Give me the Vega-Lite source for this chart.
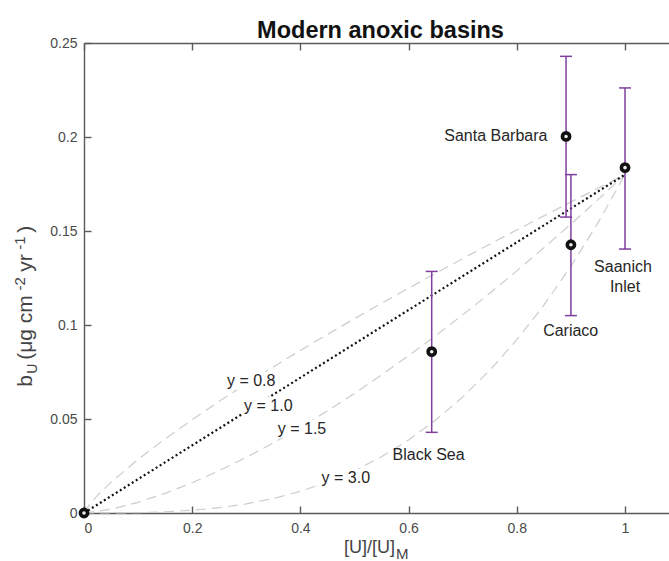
{
  "$schema": "https://vega.github.io/schema/vega-lite/v6.json",
  "width": 585,
  "height": 470,
  "autosize": {"type": "none"},
  "padding": {"left": 84, "top": 43, "right": 0, "bottom": 48},
  "background": "white",
  "title": {"text": "Modern anoxic basins", "fontSize": 23.5, "fontWeight": "bold", "font": "Liberation Sans", "color": "#111111", "anchor": "middle", "offset": -6, "dx": 4},
  "config": {
    "view": {"stroke": null},
    "font": "Liberation Sans",
    "axis": {"domainColor": "#5a5a5a", "domainWidth": 1.4, "tickColor": "#5a5a5a", "tickWidth": 1.4, "labelColor": "#4a4a4a", "labelFontSize": 14, "labelFont": "Liberation Sans", "grid": false}
  },
  "datasets": {
    "curves": [
      {"p": "0.8", "x": 0, "y": 0}, {"p": "0.8", "x": 0.01, "y": 0.00452}, {"p": "0.8", "x": 0.025, "y": 0.00941}, {"p": "0.8", "x": 0.05, "y": 0.01639}, {"p": "0.8", "x": 0.1, "y": 0.02853}, {"p": "0.8", "x": 0.15, "y": 0.03946}, {"p": "0.8", "x": 0.2, "y": 0.04967}, {"p": "0.8", "x": 0.25, "y": 0.05938}, {"p": "0.8", "x": 0.3, "y": 0.0687}, {"p": "0.8", "x": 0.35, "y": 0.07772}, {"p": "0.8", "x": 0.4, "y": 0.08648}, {"p": "0.8", "x": 0.45, "y": 0.09503}, {"p": "0.8", "x": 0.5, "y": 0.10338}, {"p": "0.8", "x": 0.55, "y": 0.11158}, {"p": "0.8", "x": 0.6, "y": 0.11962}, {"p": "0.8", "x": 0.65, "y": 0.12753}, {"p": "0.8", "x": 0.7, "y": 0.13532}, {"p": "0.8", "x": 0.75, "y": 0.143}, {"p": "0.8", "x": 0.8, "y": 0.15057}, {"p": "0.8", "x": 0.85, "y": 0.15806}, {"p": "0.8", "x": 0.9, "y": 0.16545}, {"p": "0.8", "x": 0.95, "y": 0.17276}, {"p": "0.8", "x": 1, "y": 0.18},
      {"p": "1.5", "x": 0, "y": 0}, {"p": "1.5", "x": 0.05, "y": 0.002012}, {"p": "1.5", "x": 0.1, "y": 0.005692}, {"p": "1.5", "x": 0.15, "y": 0.010457}, {"p": "1.5", "x": 0.2, "y": 0.0161}, {"p": "1.5", "x": 0.25, "y": 0.0225}, {"p": "1.5", "x": 0.3, "y": 0.029577}, {"p": "1.5", "x": 0.35, "y": 0.037271}, {"p": "1.5", "x": 0.4, "y": 0.045537}, {"p": "1.5", "x": 0.45, "y": 0.054336}, {"p": "1.5", "x": 0.5, "y": 0.06364}, {"p": "1.5", "x": 0.55, "y": 0.07342}, {"p": "1.5", "x": 0.6, "y": 0.083657}, {"p": "1.5", "x": 0.65, "y": 0.094329}, {"p": "1.5", "x": 0.7, "y": 0.105419}, {"p": "1.5", "x": 0.75, "y": 0.116914}, {"p": "1.5", "x": 0.8, "y": 0.128797}, {"p": "1.5", "x": 0.85, "y": 0.141059}, {"p": "1.5", "x": 0.9, "y": 0.153686}, {"p": "1.5", "x": 0.95, "y": 0.166671}, {"p": "1.5", "x": 1, "y": 0.18},
      {"p": "3.0", "x": 0, "y": 0}, {"p": "3.0", "x": 0.05, "y": 0.0000225}, {"p": "3.0", "x": 0.1, "y": 0.00018}, {"p": "3.0", "x": 0.15, "y": 0.0006075}, {"p": "3.0", "x": 0.2, "y": 0.00144}, {"p": "3.0", "x": 0.25, "y": 0.0028125}, {"p": "3.0", "x": 0.3, "y": 0.00486}, {"p": "3.0", "x": 0.35, "y": 0.0077175}, {"p": "3.0", "x": 0.4, "y": 0.01152}, {"p": "3.0", "x": 0.45, "y": 0.0164025}, {"p": "3.0", "x": 0.5, "y": 0.0225}, {"p": "3.0", "x": 0.55, "y": 0.0299475}, {"p": "3.0", "x": 0.6, "y": 0.03888}, {"p": "3.0", "x": 0.65, "y": 0.0494325}, {"p": "3.0", "x": 0.7, "y": 0.06174}, {"p": "3.0", "x": 0.75, "y": 0.0759375}, {"p": "3.0", "x": 0.8, "y": 0.09216}, {"p": "3.0", "x": 0.85, "y": 0.1105425}, {"p": "3.0", "x": 0.9, "y": 0.13122}, {"p": "3.0", "x": 0.95, "y": 0.1543275}, {"p": "3.0", "x": 1, "y": 0.18}
    ],
    "linear": [{"x": 0, "y": 0}, {"x": 1, "y": 0.18}],
    "curveLabels": [
      {"label": "y = 0.8", "x": 0.309, "y": 0.0704},
      {"label": "y = 1.0", "x": 0.3407, "y": 0.0571},
      {"label": "y = 1.5", "x": 0.403, "y": 0.0448},
      {"label": "y = 3.0", "x": 0.484, "y": 0.0188}
    ],
    "basins": [
      {"name": "Black Sea", "x": 0.6427, "y": 0.0858, "lo": 0.0429, "hi": 0.1285},
      {"name": "Santa Barbara", "x": 0.891, "y": 0.2003, "lo": 0.1574, "hi": 0.2429},
      {"name": "Cariaco", "x": 0.9, "y": 0.1427, "lo": 0.105, "hi": 0.18},
      {"name": "Saanich Inlet", "x": 1.0, "y": 0.1837, "lo": 0.1404, "hi": 0.2261}
    ],
    "points": [
      {"x": 0, "y": 0},
      {"x": 0.6427, "y": 0.0858},
      {"x": 0.891, "y": 0.2003},
      {"x": 0.9, "y": 0.1427},
      {"x": 1.0, "y": 0.1837}
    ],
    "basinLabels": [
      {"label": "Santa Barbara", "x": 0.7612, "y": 0.2007},
      {"label": "Cariaco", "x": 0.8996, "y": 0.0966},
      {"label": "Saanich", "x": 0.9963, "y": 0.1306},
      {"label": "Inlet", "x": 1.0, "y": 0.1202},
      {"label": "Black Sea", "x": 0.637, "y": 0.031}
    ],
    "xTitleMain": [{"label": "[U]/[U]", "x": 0.5749, "y": 0}],
    "xTitleSub": [{"label": "M", "x": 0.5765, "y": 0}],
    "yTitleMain": [
      {"label": "b", "x": -0.0961, "y": 0.0672},
      {"label": "(μg cm", "x": -0.0961, "y": 0.0815},
      {"label": "yr", "x": -0.0961, "y": 0.1283},
      {"label": ")", "x": -0.0961, "y": 0.1491}
    ],
    "yTitleSub": [{"label": "U", "x": -0.0869, "y": 0.0741}],
    "yTitleSup": [{"label": "-2", "x": -0.1091, "y": 0.1183}, {"label": "-1", "x": -0.1091, "y": 0.14}]
  },
  "layer": [
    {
      "data": {"name": "curves"},
      "mark": {"type": "line", "color": "#cccccc", "strokeWidth": 1.2, "strokeDash": [10, 6]},
      "encoding": {
        "x": {"field": "x", "type": "quantitative", "scale": {"domain": [0, 1.0813], "nice": false, "zero": false}, "axis": {"orient": "bottom", "values": [0, 0.2, 0.4, 0.6, 0.8, 1], "format": "~g", "title": null, "tickSize": -7, "labelPadding": 15}},
        "y": {"field": "y", "type": "quantitative", "scale": {"domain": [0, 0.25], "nice": false, "zero": false}, "axis": {"orient": "left", "values": [0, 0.05, 0.1, 0.15, 0.2, 0.25], "format": "~g", "title": null, "tickSize": -7, "labelPadding": 14}},
        "detail": {"field": "p", "type": "nominal"}
      }
    },
    {
      "data": {"name": "linear"},
      "mark": {"type": "line", "color": "#111111", "strokeWidth": 2.2, "strokeDash": [2, 2.7]},
      "encoding": {
        "x": {"field": "x", "type": "quantitative", "scale": {"domain": [0, 1.0813], "nice": false, "zero": false}, "axis": {"orient": "top", "values": [0, 0.2, 0.4, 0.6, 0.8, 1], "labels": false, "title": null, "tickSize": -7}},
        "y": {"field": "y", "type": "quantitative", "scale": {"domain": [0, 0.25], "nice": false, "zero": false}, "axis": null}
      }
    },
    {
      "data": {"name": "curveLabels"},
      "mark": {"type": "point", "shape": "M-1,-0.34H1V0.34H-1Z", "size": 2809, "filled": true, "fill": "white", "opacity": 1, "strokeWidth": 0},
      "encoding": {
        "x": {"field": "x", "type": "quantitative", "axis": null},
        "y": {"field": "y", "type": "quantitative", "axis": null}
      }
    },
    {
      "data": {"name": "curveLabels"},
      "mark": {"type": "text", "fontSize": 16, "color": "#262626", "align": "center", "baseline": "middle"},
      "encoding": {
        "x": {"field": "x", "type": "quantitative", "axis": null},
        "y": {"field": "y", "type": "quantitative", "axis": null},
        "text": {"field": "label"}
      }
    },
    {
      "data": {"name": "basins"},
      "mark": {"type": "rule", "color": "#7E3F9E", "strokeWidth": 1.5},
      "encoding": {
        "x": {"field": "x", "type": "quantitative", "axis": null},
        "y": {"field": "lo", "type": "quantitative", "axis": null},
        "y2": {"field": "hi"}
      }
    },
    {
      "data": {"name": "basins"},
      "mark": {"type": "tick", "orient": "horizontal", "color": "#7E3F9E", "size": 12, "thickness": 1.5, "opacity": 1},
      "encoding": {
        "x": {"field": "x", "type": "quantitative", "axis": null},
        "y": {"field": "lo", "type": "quantitative", "axis": null}
      }
    },
    {
      "data": {"name": "basins"},
      "mark": {"type": "tick", "orient": "horizontal", "color": "#7E3F9E", "size": 12, "thickness": 1.5, "opacity": 1},
      "encoding": {
        "x": {"field": "x", "type": "quantitative", "axis": null},
        "y": {"field": "hi", "type": "quantitative", "axis": null}
      }
    },
    {
      "data": {"name": "points"},
      "mark": {"type": "point", "shape": "circle", "size": 52, "filled": false, "fill": "#eeeeee", "fillOpacity": 1, "stroke": "#111111", "strokeWidth": 3.6, "opacity": 1},
      "encoding": {
        "x": {"field": "x", "type": "quantitative", "axis": null},
        "y": {"field": "y", "type": "quantitative", "axis": null}
      }
    },
    {
      "data": {"name": "basinLabels"},
      "mark": {"type": "text", "fontSize": 16, "color": "#262626", "align": "center", "baseline": "middle"},
      "encoding": {
        "x": {"field": "x", "type": "quantitative", "axis": null},
        "y": {"field": "y", "type": "quantitative", "axis": null},
        "text": {"field": "label"}
      }
    },
    {
      "data": {"name": "xTitleMain"},
      "mark": {"type": "text", "fontSize": 18, "color": "#444444", "align": "right", "baseline": "alphabetic", "dy": 40},
      "encoding": {
        "x": {"field": "x", "type": "quantitative", "axis": null},
        "y": {"field": "y", "type": "quantitative", "axis": null},
        "text": {"field": "label"}
      }
    },
    {
      "data": {"name": "xTitleSub"},
      "mark": {"type": "text", "fontSize": 15, "color": "#444444", "align": "left", "baseline": "alphabetic", "dy": 46},
      "encoding": {
        "x": {"field": "x", "type": "quantitative", "axis": null},
        "y": {"field": "y", "type": "quantitative", "axis": null},
        "text": {"field": "label"}
      }
    },
    {
      "data": {"name": "yTitleMain"},
      "mark": {"type": "text", "fontSize": 21, "color": "#444444", "align": "left", "baseline": "alphabetic", "angle": 270},
      "encoding": {
        "x": {"field": "x", "type": "quantitative", "axis": null},
        "y": {"field": "y", "type": "quantitative", "axis": null},
        "text": {"field": "label"}
      }
    },
    {
      "data": {"name": "yTitleSub"},
      "mark": {"type": "text", "fontSize": 14, "color": "#444444", "align": "left", "baseline": "alphabetic", "angle": 270},
      "encoding": {
        "x": {"field": "x", "type": "quantitative", "axis": null},
        "y": {"field": "y", "type": "quantitative", "axis": null},
        "text": {"field": "label"}
      }
    },
    {
      "data": {"name": "yTitleSup"},
      "mark": {"type": "text", "fontSize": 15, "color": "#444444", "align": "left", "baseline": "alphabetic", "angle": 270},
      "encoding": {
        "x": {"field": "x", "type": "quantitative", "axis": null},
        "y": {"field": "y", "type": "quantitative", "axis": null},
        "text": {"field": "label"}
      }
    }
  ],
  "resolve": {"axis": {"x": "independent", "y": "independent"}}
}
